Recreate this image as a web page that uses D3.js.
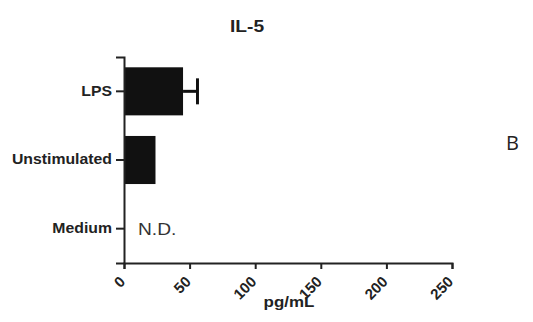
<!DOCTYPE html>
<html><head><meta charset="utf-8">
<script src="https://cdn.jsdelivr.net/npm/d3@7"></script>
<style>body{margin:0;background:#fff}svg{display:block}</style>
</head><body>
<script>
const categories = ["LPS", "Unstimulated", "Medium"];
const values = [45, 24, null];
const errors = [11, 0, null];
const xTicks = [0, 50, 100, 150, 200, 250];
const title = "IL-5";
const xTitle = "pg/mL";
const ndLabel = "N.D.";
const panelLabel = "B";

const W = 533, H = 322;
const svg = d3.select("body").append("svg").attr("width", W).attr("height", H);
const x = d3.scaleLinear().domain([0, 250]).range([124, 452]);
const y = d3.scaleBand().domain(categories).range([57, 263]).paddingInner(0.3).paddingOuter(0.15);
const SX = 1.13;
function stretch(sel, fx) {
  sel.each(function() {
    const t = d3.select(this);
    const ax = fx(t);
    t.attr("transform", (t.attr("transform") || "") + ` translate(${ax},0) scale(${SX},1) translate(${-ax},0)`);
  });
}

// bars
svg.selectAll("rect.bar").data(categories.map((c, i) => ({c, v: values[i], e: errors[i]})).filter(d => d.v != null))
  .enter().append("rect").attr("class", "bar")
  .attr("x", x(0)).attr("y", d => y(d.c))
  .attr("width", d => x(d.v) - x(0)).attr("height", y.bandwidth())
  .attr("fill", "#111");

// error bars
const eb = categories.map((c, i) => ({c, v: values[i], e: errors[i]})).filter(d => d.v != null && d.e > 0);
svg.selectAll("line.err").data(eb).enter().append("line")
  .attr("x1", d => x(d.v)).attr("x2", d => x(d.v + d.e))
  .attr("y1", d => y(d.c) + y.bandwidth() / 2).attr("y2", d => y(d.c) + y.bandwidth() / 2)
  .attr("stroke", "#111").attr("stroke-width", 3);
svg.selectAll("line.cap").data(eb).enter().append("line")
  .attr("x1", d => x(d.v + d.e)).attr("x2", d => x(d.v + d.e))
  .attr("y1", d => y(d.c) + y.bandwidth() / 2 - 13).attr("y2", d => y(d.c) + y.bandwidth() / 2 + 13)
  .attr("stroke", "#111").attr("stroke-width", 3);

// axes
const yAxis = svg.append("g").attr("transform", `translate(${x(0)},0)`)
  .call(d3.axisLeft(y).tickSizeOuter(0).tickSize(8).tickPadding(4));
yAxis.select(".domain").attr("stroke", "#222").attr("stroke-width", 2);
yAxis.selectAll(".tick line").attr("stroke", "#222").attr("stroke-width", 2);
yAxis.selectAll("text").attr("font-family", "Liberation Sans, Arial, sans-serif")
  .attr("font-weight", "bold").attr("font-size", 14).attr("fill", "#222");
stretch(yAxis.selectAll("text"), t => +t.attr("x"));

const xAxis = svg.append("g").attr("transform", `translate(0,${y.range()[1]})`)
  .call(d3.axisBottom(x).tickValues(xTicks).tickSizeOuter(0).tickSize(6));
xAxis.select(".domain").attr("stroke", "#222").attr("stroke-width", 2);
xAxis.selectAll(".tick line").attr("stroke", "#222").attr("stroke-width", 2);
xAxis.selectAll("text").attr("font-family", "Liberation Sans, Arial, sans-serif")
  .attr("font-weight", "bold").attr("font-size", 15).attr("fill", "#222")
  .attr("text-anchor", "end").attr("dy", "0.35em").attr("x", 0).attr("y", 0)
  .attr("transform", "translate(-2,16) rotate(-45)");

// N.D.
svg.append("text").attr("x", x(0) + 14).attr("y", y("Medium") + y.bandwidth() / 2 + 6)
  .attr("font-family", "Liberation Sans, Arial, sans-serif").attr("font-size", 17)
  .attr("fill", "#333").text(ndLabel)
  .call(s => stretch(s, t => +t.attr("x")));

// title
svg.append("text").attr("x", 247).attr("y", 32).attr("text-anchor", "middle")
  .attr("font-family", "Liberation Sans, Arial, sans-serif").attr("font-weight", "bold")
  .attr("font-size", 17).attr("fill", "#222").text(title)
  .call(s => stretch(s, t => +t.attr("x")));

// x title
svg.append("text").attr("x", 289).attr("y", 307).attr("text-anchor", "middle")
  .attr("font-family", "Liberation Sans, Arial, sans-serif").attr("font-weight", "bold")
  .attr("font-size", 15).attr("fill", "#222").text(xTitle)
  .call(s => stretch(s, t => +t.attr("x")));

// panel label
svg.append("text").attr("x", 506).attr("y", 150)
  .attr("font-family", "Open Sans, sans-serif").attr("font-size", 20)
  .attr("fill", "#222").text(panelLabel);
</script>
</body></html>
